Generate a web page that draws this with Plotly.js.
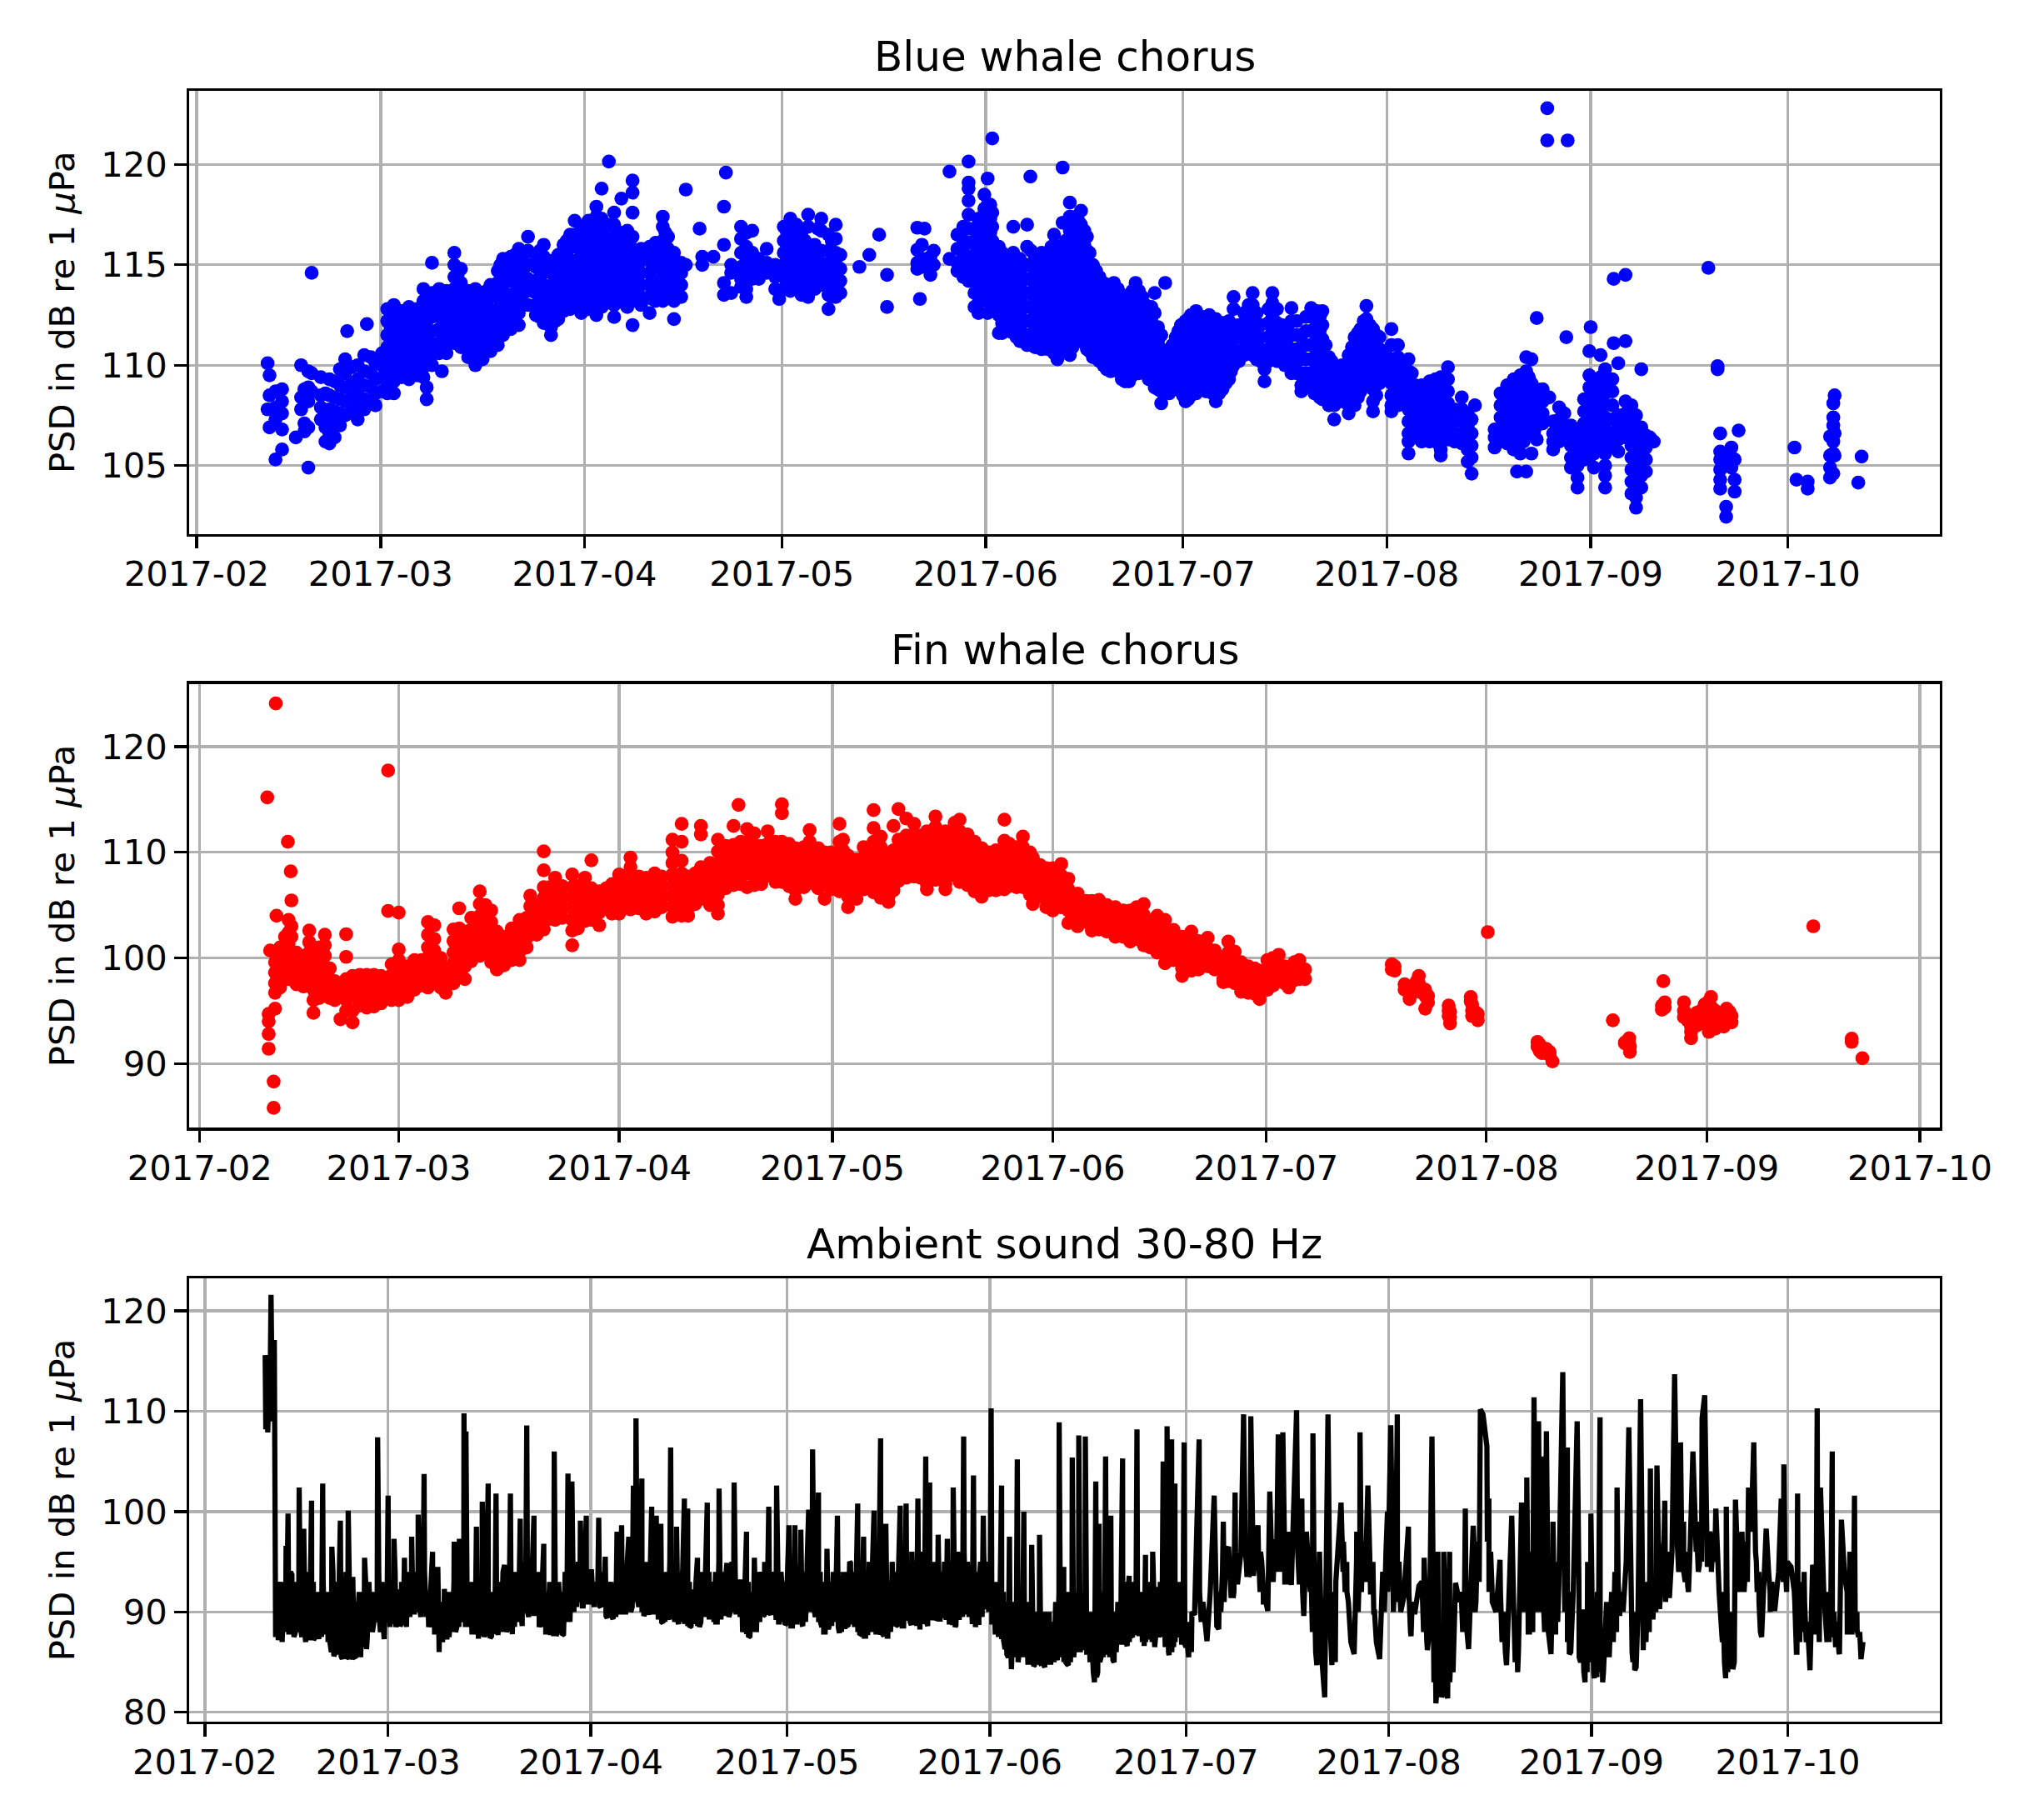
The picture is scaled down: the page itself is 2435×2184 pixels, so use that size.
<!DOCTYPE html>
<html>
<head>
<meta charset="utf-8">
<script src="https://cdn.plot.ly/plotly-3.0.1.min.js"></script>
<style>html,body{margin:0;padding:0;background:#fff}</style>
</head>
<body>
<div id="chart" style="width:2435px;height:2184px"></div>
<script>
// Scatter columns: [days since 2017-02-01, psd, psd, ...]
const blueFeb=[[10.8,110.1,107.8],[11.1,109.5,108.5,106.9],[12,108.7,107.9,107.3,105.3],[13,108.8,108.2,107.6,106.8,105.8],[15.1,106.4],[15.9,110,108.4,107.8],[16.4,108.8,107.1,106.7],[17,109.7,108.9,108.2,106.9,104.9],[17.5,114.6,109.6,108.7],[18.9,109.4,108.5,107.9,107.3],[19.6,108.6,107.6,106.9,106.2],[20.2,109.3,108.5,107.8,107.2,106.6,106.1],[21,109.2,108.4,107.7,107,106.4],[21.8,109.8,109,108.3,107.6,107],[22.6,110.3,109.6,108.9,108.2,107.5],[22.9,111.7],[23.6,109.9,109.1,108.4,107.7],[24.5,110,109.3,108.6,107.9,107.3],[25.5,110.5,109.7,109,108.3,107.8],[25.9,112.05],[26.5,110.4,109.6,108.9,108.1],[27.2,110.1,109.3,108.6,108]];
const blueMar=[[28.2,110.6,110,109.4,108.7],[29,112.8,112.2,111.5,110.9,110.2,109.6,109,108.6],[30,113,112.4,111.8,111.1,110.4,109.8,109.2,108.6],[31.2,112.7,112,111.4,110.7,110,109.4],[32.3,112.9,112.3,111.7,111,110.4,109.7,109.3],[33.5,112.8,112.2,111.5,110.8,110.1,109.5],[34.5,113.8,113.2,112.6,111.9,111.2,110.5,109.9,109.4],[35,108.9,108.3],[35.8,115.1,113.6,113,112.4,111.7,111.1,110.5,110],[36.9,113.8,113.1,112.5,111.8,111.1,110.6],[37.3,109.7],[38,113.7,113,112.3,111.7,111,110.6],[39.2,115.6,115,114.4,113.8,113.2,112.5,111.8,111.1],[40.2,114.8,114.1,113.4,112.8,112.1,111.5,110.9],[41.3,113.7,113,112.3,111.6,111,110.4],[42.4,113.8,113.1,112.5,111.8,111.1,110.4,110],[43.5,113.6,113,112.3,111.6,110.9,110.3],[44.7,114,113.4,112.7,112,111.4,110.7],[45.8,114.7,114.1,113.4,112.8,112.1,111.5,111],[46.6,115.3,114.6,114,113.3,112.6,112,111.5],[47.8,115.4,114.8,114.2,113.5,112.9,112.3,111.8],[49,115.8,115.2,114.5,113.9,113.3,112.6,112],[50.4,116.4,115.7,115,114.3,113.7,113],[51.6,115.5,114.9,114.2,113.6,113,112.5],[52.8,116,115.4,114.7,114,113.4,112.7,112.1],[53.9,115.2,114.6,113.9,113.2,112.5,111.9,111.5],[55,115.5,114.8,114.1,113.4,112.8,112.3],[55.8,116,115.3,114.7,114,113.4,112.7],[56.8,116.5,115.9,115.2,114.6,113.9,113.3,112.8],[57.5,117.2,116.5,115.9,115.2,114.6,114,113.4,113],[58.5,116.9,116.3,115.6,115,114.3,113.7,113,112.6]];
const blueApr=[[59.6,117.2,116.5,115.9,115.2,114.6,114,113.4,112.8],[60.8,117.9,117.4,116.7,116,115.4,114.8,114.1,113.5,112.5],[61.6,118.8,117.3,116.6,115.9,115.3,114.7,114,113.4,112.9],[62.7,120.15,117,116.3,115.7,115,114.4,113.8,113.2],[63.5,117.6,117,116.3,115.7,115,114.3,113.6,113,112.4],[64.6,118.3,116.4,115.8,115.1,114.5,113.9,113.3],[65.5,116.7,116.1,115.4,114.7,114,113.4,112.9],[66.3,119.2,118.6,117.6,116.4,115.8,115.1,114.5,113.9,113.3,112],[67.6,115.8,115.2,114.6,114,113.4,113],[68.9,115.9,115.3,114.6,114,113.4,112.6],[69.8,116.1,115.5,114.9,114.2,113.6,113.2],[70.9,117.4,116.9,116.2,115.6,115,114.4,113.8,113.2],[71.7,116.4,115.8,115.2,114.6,114,113.4],[72.6,115.6,115,114.4,113.8,113.2,112.3],[73.7,115.1,114.6,114,113.4],[74.4,118.75,115],[76.5,116.8],[76.9,115.4,115],[78.6,115.4],[80.2,117.9,116,114.1,113.5],[80.5,119.6],[81.3,115,114.6,113.6],[82.8,116.9,116.3,115.6,114.9,114.3,113.9],[83.6,116.6,115.9,115.2,114.5,113.8,113.4],[84.5,116.7,115.6,114.9,114.3],[85.5,115.3,114.7,114.3],[86.7,115.8,115.1,114.6],[88,115,114.4,113.8],[88.6,114.6,113.3]];
const blueMay=[[89.3,116.9,116.2,115.6,115,114.4,113.8],[90.3,117.3,116.7,116,115.4,114.8,114.2,113.7],[91.2,117,116.3,115.7,115,114.4,113.8],[92,116.6,115.9,115.3,114.6,114,113.5],[93,117.5,116.9,115.8,115.1,114.5,113.9,113.4],[94,116,115.4,114.8,114.2,113.8],[95,117.3,116.7,115.7,115.1,114.6,114],[96.1,116.5,115.7,115,114.4,113.5,112.8],[97.2,117,116.3,115.6,115,114.4,113.9,113.4],[97.9,115.5,114.8,114.2,113.6],[100.8,114.9],[102.3,115.5],[103.8,116.5],[105,114.5,112.9],[109.6,116.85,115.75,115.1,114.8],[110,113.3],[110.3,116,115.3,114.9],[110.7,116.8],[111.6,115.4,114.5],[112.1,115.7,115],[114.5,119.65,115.3],[115.7,116.5,115.8,115.1,114.7],[116.6,116.9,116.2,115.6,115,114.4],[117.4,120.15,119.1,118.8,118.2,117.5,116.8,116.1,115.4,114.8,114.2],[118.3,116.8,116.2,115.5,114.9,114.3,113.6,112.9],[118.9,117.3,116.6,115.9,115.2,114.5,113.8,113.1,112.6],[119.8,118.5,117.8,117.1,116.4,115.7,115,114.3,113.6]];
const blueJun=[[120.3,119.3,118,117.4,116.7,116,115.4,114.7,114,113.3,112.6],[121,121.3,117.6,116.9,116.2,115.5,114.8,114.1,113.4,112.7],[122,115.9,115.3,114.6,113.9,113.2,112.5,111.6],[123,115.4,114.7,114,113.3,112.6,111.9],[124.2,116.9,115.6,114.9,114.2,113.5,112.8,112.2,111.6],[125.2,115.3,114.6,113.9,113.2,112.5,111.8,111.2],[126.3,117,115.9,115,114.3,113.6,112.9,112.2,111.5,111],[126.8,119.4],[127.5,115.4,114.7,114,113.3,112.6,111.9,111.2,110.9],[128.5,115.6,114.9,114.2,113.5,112.8,112.1,111.4,110.8],[129.5,115.6,114.9,114.2,113.5,112.8,112.1,111.4,110.8],[130.4,116.5,115.5,114.8,114.1,113.4,112.7,112,111.3,110.6],[130.9,110.3],[131.7,119.85,117.1,115.6,114.9,114.2,113.5,112.8,112.1,111.4,110.7],[132.8,118.1,117.4,116.7,116,115.3,114.6,113.9,113.2,112.5,111.8,111.1,110.5],[133.7,117.4,116.8,116.1,115.4,114.7,114,113.3,112.6,111.9,111.4],[134.5,117.7,117,116.3,115.6,114.9,114.2,113.5,112.8,112.1,111.4],[135.4,116.4,115.7,115,114.3,113.6,112.9,112.2,111.5,110.8],[136.3,115,114.3,113.6,112.9,112.2,111.5,110.8,110.4],[137.3,114.4,113.7,113,112.3,111.6,110.9,110.2],[138.4,114,113.3,112.6,111.9,111.2,110.5,109.8],[139.5,114.1,113.4,112.7,112,111.3,110.6,110],[140.7,113.5,112.8,112.1,111.4,110.7,110,109.3],[141.8,113.3,112.6,111.9,111.2,110.5,109.8,109.2],[142.8,114.1,113.4,112.7,112,111.3,110.6,110],[143.8,113.4,112.7,112,111.3,110.6,109.9],[144.8,112.7,112,111.3,110.6,109.9,109.3],[145.7,113.6,112.6,111.9,111.2,110.5,109.8,109.1,108.9],[146.7,111.5,110.8,110.1,109.4,108.7,108.1],[147.3,114.1,110.6,109.9,109.2],[147.9,110.4,109.7,109,108.6],[148.9,111.4,110.8,110.1,109.4,108.9],[149.7,112,111.4,110.7,110,109.3,108.7]];
const blueJul=[[150.4,112.2,111.5,110.8,110.1,109.4,108.7,108.2],[151.2,112.5,111.8,111.1,110.4,109.7,109,108.5],[152,112.7,112,111.3,110.6,109.9,109.2,108.6],[153,112.4,111.7,111,110.3,109.6,108.9],[154,112.5,111.8,111.1,110.4,109.7,109],[155,112.3,111.6,110.9,110.2,109.5,108.8,108.2],[156,112.1,111.4,110.7,110,109.3,108.8],[157,112.2,111.5,110.8,110.1,109.3],[157.7,113.4,112.8,111.9,111.3,110.6,110],[159.3,112.6,112,111.4,110.8,110.5],[160.6,113.6,113,112.3,111.7,111.1,110.5],[161.8,112,111.4,110.8,110.2],[162.4,110.4,109.8,109.2],[163.6,113.6,113.1,112.4,111.7,111.1,110.5],[164.3,112.8,112.1,111.4,110.7,110.2],[165.5,111.1,110.5,110],[166.5,112.85,112.2,111.5,110.8,110.2,109.6],[167.3,112.2,111.5,110.8,110.2,109.6],[168,111.5,110.9,110.3,109.6,109,108.7],[169.5,112.85,112.4,111.7,111,110.3,109.6,109],[170.4,112.7,112,111.3,110.6,109.9,109.2,108.6],[171.2,112.7,112,111.3,110.6,109.9,109.2,108.5,108.3],[172.2,110.4,109.8,109.2,108.6,108],[173,109.9,109.2,108.6,108,107.3],[174.2,110,109.4,108.8,108.2],[175.2,110.5,109.9,109.2,108.6,108,107.6],[176.1,111.4,110.8,110.2,109.6,109,108.4,108],[177,111.8,111.1,110.5,109.9,109.3,108.7],[177.9,112.95,112.3,111.7,111,110.4,109.8,109.2],[178.9,111.8,111.2,110.6,110,109.4,108.8,108.2,107.7],[179.9,111.4,110.8,110.2,109.6,109.1],[180.8,110.7,110.1,109.5]];
const blueAug=[[181.7,111.8,111,110.3,109.7,109.1,108.5,108,107.7],[182.7,111,110.4,109.8,109.2,108.6,108],[183.3,110,109.4,108.8,108.2],[184.3,110.3,109.7,109,108.4,107.8,107.2,106.6,106.2,105.6],[185.3,109,108.4,107.8,107.2,106.6],[186.3,109,108.4,107.8,107.2,106.6,106.2],[187.5,109.2,108.6,108,107.4,106.8,106.2],[188.4,109.3,108.7,108.1,107.5,106.9,106.3],[189.2,109.4,108.8,108.2,107.6,107,106.4,105.8,105.5],[190.3,109.9,109.3,108.7,108.1,107.5,106.9,106.3],[191.3,107.8,107.2,106.6,106.2],[192.4,108.4,107.8,107.2,106.6,106.1],[193.3,107.6,107,106.4,105.8,105.2],[193.9,107.3,106.6,106,105.4,104.6],[194.4,108],[197.4,106.8,106.4,105.9],[198.3,108.6,108,107.4,106.8,106.2],[199.3,109,108.4,107.8,107.2,106.6,106.1],[200.3,109.3,108.7,108.1,107.5,106.9,106.3,105.8],[200.8,104.7],[201.3,109.5,108.9,108.3,107.7,107.1,106.5,105.6],[202.2,110.4,109.7,109,108.4,107.8,107.2,106.6,104.7],[203,110.3,109.1,108.5,107.9,107.3,106.7,105.6],[203.8,112.35,108.8,108.2,107.6,107,106.3],[204.7,108.8,108.2,107.6,107.1],[205.7,108.4],[206.3,107.2,106.6,106.2,105.8],[207.2,107.9,107.3,106.7,106.2],[208,107.6,107,106.6],[208.3,111.4],[209,107,106.5,106,105.4,104.9],[210,106.7,106.2,105.6,105,104.4,103.9],[211,108.3,107.7,107.1,106.5,105.9,105.3]];
const blueSep=[[211.8,110.7,109.5,108.9,108.3,107.7,107.1,106.5,105.9,105.4],[212,111.9],[212.5,109.2,108.6,108,107.4,106.8,106.2,105.6,104.9],[213.5,110.5,109.4,108.8,108.2,107.6,107,106.4,105.8],[214.2,109.8,109.2,108.6,108,107.4,106.8,106.2,105.6,105,104.5,103.9],[215.3,109.3,108.7,108,107.3,106.6,106],[215.5,114.3,111.1],[216.2,110.1,107.5,106.9,106.3,105.7],[217.3,114.5,111.2,108.2,107.6,107,106.4],[218.2,108,107.3,106.6,106,105.4,104.8,104.2,103.6],[218.9,107.5,106.9,106.3,105.7,105.1,104.5,103.9,103.4,102.9],[219.7,109.8,106.9,106.3,105.7,105.1,104.5,103.9],[220.4,106.5,105.9,105.3,104.7],[221,106.4],[221.6,106.2],[229.9,114.85],[231.3,109.95,109.8],[231.7,106.6,105.7,105.3,104.8,104.3,103.85],[232.6,105.5,105,102.95,102.45],[233.4,105.9,105.4,104.9],[233.9,105.3,104.3,103.7],[234.5,106.75]];
const blueOct=[[243,105.9],[243.3,104.3],[245,104.2,103.85],[248.4,106.45,105.5,104.9,104.4],[248.9,108.1,107.4,107,106.2,105.6,104.6],[249.1,108.5,106.6,105.5],[252.7,104.15],[253.2,105.45]];
const blueOutliers=[[205.4,122.8,121.2],[208.5,121.2]];
const blueCoreSpring=[[29.5,112.5,111.9,111.2,110.6,109.9,109.3],[30.6,112.7,112.1,111.5,110.8,110.1,109.5],[31.8,112.3,111.7,111,110.3,109.7],[32.9,112.5,111.9,111.2,110.5,109.8],[35.2,113,112.3,111.7,111,110.4],[37.5,113.4,112.8,112.1,111.4,110.9],[38.7,113.3,112.6,112,111.4],[39.7,114.5,113.8,113.1,112.4,111.8,111.2],[41.9,113.4,112.8,112.1,111.4,110.7],[43,113.3,112.7,112,111.3,110.6],[44.1,113.7,113,112.3,111.7,111],[46.2,115,114.3,113.7,113,112.4,111.7],[48.4,115.5,114.8,114.2,113.6,113,112.3],[49.7,115.5,114.8,114.2,113.6,113],[52.2,115.7,115,114.4,113.7,113.1,112.4],[54.5,115,114.3,113.6,112.9,112.2],[56.3,116.2,115.6,114.9,114.3,113.6,113],[58,116.5,115.9,115.2,114.6,114,113.3],[60.2,117,116.3,115.6,114.9,114.3,113.7,113.1],[62.2,116.9,116.3,115.6,115,114.3,113.7,113.1],[63.9,116.7,116,115.4,114.7,114,113.3],[65,116.4,115.8,115.1,114.4,113.7,113.1],[66.9,115.5,114.9,114.3,113.7,113.2],[69.3,115.6,115,114.3,113.7,113.3],[71.3,116.6,116,115.4,114.8,114.2,113.6],[72.2,115.3,114.7,114.1,113.5],[89.8,116.6,116,115.3,114.7,114.1],[91.6,116.7,116,115.3,114.7,114.1],[92.5,116.2,115.6,115,114.3,113.8],[94.5,116.8,115.7,115.1,114.5,114],[96.6,116.2,115.5,114.8,114.1,113.4]];
const blueCoreSummer=[[120.7,118,117.3,116.6,115.9,115.2,114.5,113.8,113.1],[122.5,115.6,114.9,114.2,113.5,112.8,112.1,111.6],[123.6,115,114.3,113.6,112.9,112.2,111.7],[124.7,115.3,114.6,113.9,113.2,112.5,111.9,111.4],[125.7,115,114.3,113.6,112.9,112.2,111.5],[126.9,115.7,115,114.3,113.6,112.9,112.2,111.5,111.1],[128,115,114.3,113.6,112.9,112.2,111.5,110.9],[129,115.3,114.6,113.9,113.2,112.5,111.8,111.1],[130,115.9,115.2,114.5,113.8,113.1,112.4,111.7,111],[131.2,115.9,115.2,114.5,113.8,113.1,112.4,111.7,111,110.6],[132.2,116.2,115.5,114.8,114.1,113.4,112.7,112,111.3,110.7],[133.2,117,116.4,115.7,115,114.3,113.6,112.9,112.2,111.5,110.9],[134.1,117.2,116.5,115.8,115.1,114.4,113.7,113,112.3,111.6],[135,116.7,116,115.3,114.6,113.9,113.2,112.5,111.8,111.1],[135.8,115.6,114.9,114.2,113.5,112.8,112.1,111.4,110.7],[136.8,114.7,114,113.3,112.6,111.9,111.2,110.5],[137.9,114.1,113.4,112.7,112,111.3,110.6,110],[139,113.7,113,112.3,111.6,110.9,110.2,109.7],[140.1,113.8,113.1,112.4,111.7,111,110.3,109.7],[141.2,113.1,112.4,111.7,111,110.3,109.6,109.2],[142.3,113.7,113,112.3,111.6,110.9,110.2,109.5],[143.3,113.7,113,112.3,111.6,110.9,110.2,109.6],[144.3,113,112.3,111.6,110.9,110.2,109.6],[145.2,112.9,112.2,111.5,110.8,110.1,109.4],[146.2,111.9,111.2,110.5,109.8,109.1,108.8],[147.6,110.1,109.4,108.9],[148.4,111,110.4,109.8,109.1],[149.3,111.7,111.1,110.4,109.7,109.1],[150,111.9,111.2,110.5,109.8,109.1,108.5],[150.8,112.3,111.6,110.9,110.2,109.5,108.8,108.3],[151.6,112.5,111.8,111.1,110.4,109.7,109],[152.5,112.3,111.6,110.9,110.2,109.5,108.8],[153.5,112.1,111.4,110.7,110,109.3,108.7],[154.5,112,111.3,110.6,109.9,109.2,108.6],[155.5,112,111.3,110.6,109.9,109.2,108.6],[156.5,111.8,111.1,110.4,109.7,109.1],[157.3,111.8,111.1,110.4,109.7],[158.5,112,111.4,110.7,110.2],[160,113,112.4,111.8,111.2,110.8],[161.2,112.6,112,111.4,110.8,110.3],[163,112.8,112.1,111.4,110.8,110.2],[165,112,111.4,110.8,110.2],[166,112,111.4,110.7,110.1],[168.7,112.4,111.7,111,110.3,109.6,109.1],[170,112.5,111.8,111.1,110.4,109.7,109,108.6],[170.8,112.4,111.7,111,110.3,109.6,108.9,108.4],[171.7,111,110.3,109.6,108.9,108.3],[172.6,110.2,109.5,108.9,108.3],[175.7,110.9,110.2,109.5,108.9,108.3],[176.6,111.6,110.9,110.3,109.6,109,108.4],[177.5,112.2,111.5,110.9,110.3,109.6,109],[178.4,112,111.4,110.8,110.2,109.6,109],[179.4,111.5,110.9,110.3,109.7,109.1,108.5],[184.8,109.6,109,108.4,107.8,107.2,106.6],[185.8,108.7,108.1,107.5,106.9,106.4],[186.9,108.9,108.3,107.7,107.1,106.5],[188,109,108.4,107.8,107.2,106.6],[188.8,109.1,108.5,107.9,107.3,106.7,106.1],[189.8,109.1,108.5,107.9,107.3,106.7],[199.8,108.7,108.1,107.5,106.9,106.3],[200.8,109,108.4,107.8,107.2,106.6],[201.8,109.2,108.6,108,107.4,106.8,106.2],[202.6,109.4,108.7,108.1,107.5,106.9],[203.4,108.5,107.9,107.3,106.7]];

const redFeb=[[9.5,115.2],[9.7,94.7,94,92.8,91.4],[9.9,100.7],[10.4,88.3,85.8],[10.6,99.6,98.6,97.6,96.7,95.2],[10.7,124.1],[10.8,104],[11.3,101,100,99,98,97.2],[12,102,101,100,99,98],[12.4,111],[12.5,103.6,102.4,101.3,100.2,99.1,98],[12.8,108.2],[12.9,105.45,103,102],[13.6,100.5,99.5,98.5,97.5],[14.6,100.2,99.2,98.2,97.3],[15.4,102.6,101.5,100.5,99.5,98.5,97.6],[16,99.5,98,97,96,94.8],[16.8,101,100,99,98,97,96.2],[17.6,102.2,101.2,100.2,99.2,98.2,97.2],[18.3,99,98,97,96.2],[19,97.8,96.9,96],[19.8,97.3,96.3,94.2],[20.6,102.25,100.1,98,97,96,95],[21.5,98.3,97.3,96.3,95,93.9],[22.5,98.4,97.4,96.4,95.5],[23.5,98.4,97.3,96.3,95.3],[24.5,98.4,97.4,96.4,95.4],[25.5,98.3,97.3,96.3,95.7],[26.5,117.75,104.45,98,97.2],[27,99.4,98.4,97.4,96.4,96]];
const redMar=[[28,104.3,100.8,99.8,98.8,97.8,96.8,96],[29.2,99.2,98.2,97.2,96.3],[30.2,99.8,98.8,97.8,97],[31.2,99.8,98.8,97.8,97.4],[32.1,103.4,102.2,101,100,99,98,97.2],[33,103.1,101.8,100.7,99.6,98.6,97.6],[33.9,100,99,98,97.2],[34.6,99,98,96.7],[35.7,102.7,101.6,100.5,99.5,98.5,97.6],[36.5,104.7,102.8,101.8,100.8,99.8,98.8],[37.3,102.5,101.4,100.3,99.2,98],[38.2,103.8,102.7,101.7,100.7,99.7],[39.4,106.3,105.1,104,103,102,101,100.2],[40.2,105,104,103,102,101],[41,104.5,103.4,102.4,101.4,100.4,99.6],[41.8,102.5,101.4,100.3,99.2,98.9],[42.8,102,101,100,99.3],[43.9,102.8,101.8,100.8,99.8],[45,103.6,102.6,101.6,100.6,99.8],[46,103.8,102.8,101.9,101],[46.5,105.9,104.9],[47.4,105,104,103,102.2],[48.4,110.1,108.3,106.7,105.7,104.7,103.7,102.7],[49.2,106.7,105.7,104.7,103.7],[50,107.6,106.6,105.6,104.6,103.6],[51,106.8,105.8,104.8,103.8],[52.4,107.9,106.7,105.7,104.7,103.6,102.6,101.2],[53.2,106.8,105.8,104.8,103.8,102.8],[54.2,107.6,106.5,105.5,104.5,103.5],[55.1,109.25,106.6,105.6,104.6,103.6],[56.2,106.3,105.3,104.3,103.1],[57.2,106.6,105.6,104.7],[58,107,106,105,104.2]];
const redApr=[[59,107.9,106.9,105.9,104.9,104.2],[60,107.8,106.8,105.8,104.8],[60.6,109.5,108.6,107,106,105,104.6],[61.8,107.7,106.7,105.7,104.7],[62.8,107.6,106.6,105.6,104.6,104.2],[64,108,107,106,105,104.4],[65,107.7,106.7,105.7,104.8],[66.5,111.2,110,109,107.9,106.9,105.9,104.9,103.9],[67.8,112.7,111,109.2,108,107,106,105,104],[68.7,107.7,106.7,105.7,104.7,104],[69.7,108,107,106,105.1],[70.5,112.5,111.7,108.6,107.6,106.6,105.6],[71.8,109,108,107,106,105],[72.9,111.2,110.1,109,108,107,106,105,104.2],[74,110.6,109.6,108.6,107.6,106.6],[75.1,112.5,110.7,109.7,108.7,107.7,106.9],[75.8,114.5],[76.1,111,110,109,108,107],[77,112.2,111,110,109,108,106.7],[78,111.8,110.7,109.7,108.7,107.7,106.9],[79,110.6,109.6,108.6,107.6,107],[79.9,112,110.8,109.8,108.8,107.8],[81,111,110,109,108,107.2],[81.9,114.55,113.7,111,110,109,108,107.2],[82.9,110.8,109.8,108.8,107.8,106.8],[83.8,110.4,109.4,108.4,107.4,106.4,105.6],[85,110.5,109.5,108.5,107.5,106.7],[85.8,112.1,111,110,109,108,107.1],[87,110.4,109.4,108.4,107.4,106.6],[87.9,110,109,108,107,105.6],[88.8,110,109,108,107,106.5]];
const redMay=[[90,112.7,111,110,109,108,107,106.3],[90.5,111.2,110.2],[91.2,109.7,108.7,107.7,106.7,105.8,104.8],[92.4,109.3,108.3,107.3,106.3,105.6],[93.4,110.5,109.5,108.5,107.5,106.5],[94.8,114,112.3,111,110,109,108,107,106.2],[95.8,111.5,110.5,109.5,108.5,107.5,106.5,105.7],[96.9,109.8,108.8,107.8,106.8,105.8,105.3],[97.6,112.5,110.2,109.2,108.2,107.2,106.4],[98.3,114.1,111.2,110.2,109.2,108.2,107.3],[99.4,113.2,111.6,110.6,109.6,108.6,107.6],[100.5,112.7,111.7,110.7,109.7,108.7,107.7],[101.4,111.6,110.6,109.6,108.6,107.6],[102.3,112,111,110,109,108,107,106.5],[103.5,113.4,112.4,111.4,110.4,109.4,108.4,107.4],[104.9,112,111,110,109,108,107,106.5],[106.2,112.8,111.8,110.8,109.8,108.8,107.8],[106.9,113.1,112,111,110,109,108,107.2],[108,111.7,110.7,109.7,108.7,107.7,106.9],[109,111,110,109,108,107,106.3],[110,110.4,109.4,108.4,107.4,106.4,105.8],[111,110,109,108,107,106.4],[112,110.2,109.2,108.2,107.2,106.4],[113.2,113.1,111.1,110.1,109.1,108.1,107.1,106.5],[113.9,110.8,109.8,108.8,107.8,106.8],[114.9,110.5,109.5,108.5,107.5,106.7],[115.8,111.5,110.5,109.5,108.5,107.5,106.7],[116.8,110,109,108,107,106],[117.2,109.5,108.5,107.5,106.5,105.1],[118.2,108.8,107.8,106.8,105.8],[119.1,108.5,107.5,106.5,105.5,104.8]];
const redJun=[[120,108.5,107.5,106.5,105.5,104.5],[121.2,108.9,107.8,106.8,105.8,104.8],[122.2,107.5,106.5,105.5,104.5,103.3],[123.5,106.1,105.1,104.1,103],[124.7,105.4,104.4,103.4],[125.5,105.4,104.4,103.4,102.6],[126.5,105.5,104.5,103.5,102.7],[127.6,105,104,103,102.5],[128.8,104.8,103.8,102.8,102],[129.9,104.5,103.5,102.5,102],[130.9,104.5,103.5,102.5,101.55],[131.8,104.8,103.8,102.8,101.8],[132.8,105.1,104.1,103,102,101.2],[133.7,103.5,102.5,101.5,101],[134.7,104,103,102,101,100.5],[135.8,103.6,102.6,101.6,100.6,99.5],[137,102.65,101.7,100.7,99.8],[138.2,102,101,100,99,98.3],[139.5,102.5,101.5,100.5,99.5,98.8],[140.5,101.6,100.6,99.6,98.9],[141.8,101.9,100.9,100,99.2],[142.8,100.7,99.8,98.9],[144,100,99,98,97.7],[144.7,101.55,100.5,99.5,98.6,97.8],[145.6,100.6,99.6,98.6,97.6],[146.5,99.6,98.6,97.6,96.8],[147.5,99.2,98.2,97.2,96.7],[148.4,99,98,97,96.6],[149.1,98.8,97.8,96.8,96.1]];
const redJul=[[150.2,99.8,98.8,97.8,97],[151,100,99,98.1,97.4],[151.8,100.3,99.3,98.4],[152.6,99.2,98.3,97.6],[153.2,99,98,97.2],[154,99.6,98.6,97.9],[154.7,99.8,98.8,98],[155.5,98.9,98],[167.7,99.4,98.9],[168.1,99.2,98.8],[169.5,97.5,97],[170.2,97.2,96.6,96.1],[171.2,97.8,97.2],[171.5,98.3,97.6,96.8],[172.4,97,96.4,95.2],[172.8,96.4,95.8],[175.7,95.5,95,94.5],[175.9,94.9,94.4,93.8],[178.8,96.3,95.9],[179,95.6,95,94.5],[179.4,94.9,94.5],[179.8,94.7,94.1]];
const redAug=[[181.2,102.45],[188.2,92.05,91.6],[188.5,91.8,91.2],[188.8,91.4,91],[189.4,91.4,91],[189.9,91.1,90.8],[190.3,90.2],[198.8,94.1],[200.5,92,91.9],[201.1,92.4,91.8],[201.2,91.6,91.1],[205.7,95.1,95.5],[205.9,97.8],[206.1,95.8,95.3],[208.8,95.8,95,94.4],[209.3,94.6,94.1],[209.8,93.7,93.5,93,92.4],[210.6,94.8,94.2,93.6],[211.2,95,94.4,93.8]];
const redSep=[[211.7,95.6,94.9,94.5,93.9],[212.3,95.9,95.2,94.6,93.9,93],[212.6,96.3,95.4,94.5,93.6],[213.2,95,94.4,93.8,93.3],[213.9,94.6,94.1,93.6],[214.4,94.7,94,93.5],[214.8,95.2,94.6,94],[215.2,94.9,94.3],[215.5,94.5,93.9],[227,103],[232.4,92.35,92.05],[233.9,90.5]];

// Line samples: day, psd, day, psd, ...
const ambientFeb=[9.2,115.6,9.3,108.2,9.5,114,9.6,107.9,9.8,113,9.9,109,10.1,121.6,10.3,110,10.6,117.1,10.8,87.5,11,92.5,11.2,87.2,11.5,92.3,11.8,87,12.1,92,12.4,96.6,12.7,99.8,13,88,13.3,93.7,13.6,87.5,14,91,14.4,102.4,14.7,88,15.1,98.3,15.4,87,15.7,92,16,87.2,16.3,101.1,16.6,87.2,17,90.5,17.4,87.3,18,102.8,18.3,88,18.7,92,19.1,87,19.4,96.5,19.7,85.6,20,91,20.3,86,20.7,99.1,21,85.3,21.3,92,21.6,85.4,21.9,100.1,22.2,85.3,22.6,93.5,23,85.4,23.4,90,23.8,85.5,24.4,95.4,24.7,86.3,25.2,90.5,25.6,88,26,90,26.4,107.4,26.7,89,27.1,91,27.4,87.3,28,101.6];
const ambientMar=[28.3,88.5,28.9,97.3,29.2,88.5,29.7,92,30,88.8,30.5,95.4,30.8,88.5,31.2,93,31.6,97.5,32,90,32.6,99.7,33,89.5,33.5,103.75,33.8,90.5,34.2,88.5,34.8,96,35.1,88,35.4,91,35.6,94.5,35.8,86,36.2,88,36.6,92.3,37,87.5,37.5,89,38.1,97,38.5,88.5,38.9,97.3,39.2,90,39.6,109.8,39.9,108,40.2,90,40.6,92,41,88,41.5,98.5,41.8,87.6,42.4,101,42.7,87.5,43.3,102.8,43.6,87.4,44,90,44.5,101.8,44.8,87.7,45.3,90,45.8,94.7,46.1,88,46.7,101.8,47,87.8,47.6,92,48.2,99.3,48.5,88.6,49.2,108.6,49.5,89.5,50.3,99.6,50.7,90,51.1,88.5,51.8,96.8,52.1,88,52.7,93,53.4,106,53.7,87.6,54.2,91,54.6,87.7,55.5,103.8,55.8,89,56.1,103,56.4,90,56.9,92,57.4,99.1,57.7,90.6,58.3,99.6,58.6,91];
const ambientApr=[59.1,94,59.5,90.5,60.2,99.4,60.5,90.5,61.2,95.5,61.5,89.4,62,92.5,62.4,89.3,63,98,63.3,90,63.7,98.65,64.1,90,64.8,97.5,65.1,90,65.5,102.6,65.7,92,65.9,109.3,66.2,91,66.8,103.3,67.1,89.6,67.6,93,68.3,100.5,68.6,90,69,99.6,69.3,89.5,69.7,98.8,70,88.9,70.6,93,71.2,106.4,71.5,89.5,72.1,98.5,72.4,88.8,73.3,101.3,73.6,89,73.8,100.3,74.1,88.5,74.7,92,75.3,95.4,75.6,88.5,76.2,93,76.8,100.9,77.1,89.5,77.8,92.5,78.1,89,78.6,102.3,78.9,89.5,79.4,92,79.8,94.9,80.1,89.5,80.9,102.9,81.2,90,81.8,93,82.2,88,82.8,98,83.1,87.5,84,95.4,84.3,88,84.9,92,85.5,89.7,86.2,100.5,86.5,89.7,87.4,102.6,87.7,89,88.3,92,88.7,88.7];
const ambientMay=[89.3,98.65,89.6,88.6,90.2,98.65,90.5,89,91.1,98.2,91.4,88.6,92,92,92.3,100.2,92.9,106.2,93.2,90,93.8,101.9,94.1,89,94.6,88,95.1,96.3,95.4,88.5,96,92.5,96.7,99.6,97,87.9,97.5,92,98.1,88.6,98.7,94.9,99,89,99.8,100.8,100.1,87.7,100.7,97.5,101,87.6,101.6,92,102.3,100.1,102.6,88,103.3,107.3,103.6,87.8,104.1,98.8,104.4,87.6,105,92,105.6,88.6,106.3,100.6,106.6,88.6,107.2,100.8,107.5,89.5,108,88.7,109,101.3,109.3,88.5,110.2,105.5,110.5,88.6,110.8,102.9,111.1,90,111.6,89.2,112.1,97.7,112.4,89.3,113,93,113.5,97.3,113.8,89,114.4,102.4,114.7,88.5,115.3,93,116,107.5,116.3,90,116.9,93,117.5,103.6,117.8,88.5,118.4,93,119,99.6,119.3,90.5,119.8,93];
const ambientJun=[120.2,110.3,120.5,89,121,88,121.8,102.6,122.1,87.2,122.6,85.8,123,97.5,123.3,84.3,123.8,88,124.2,105.2,124.5,86,125.2,100,125.5,90.5,126,85,126.4,96.7,126.7,84.6,127.2,85,127.6,97.7,127.9,84.7,128.4,84.5,128.8,90,129.2,85,129.8,88,130.2,85.5,130.6,108.9,131,92,131.3,94.5,131.6,85,132,84.7,132.6,105.4,132.9,86,133.6,107.6,133.9,86.5,134.6,107.5,134.9,86,135.4,90,136,83,136.2,103,136.5,84,136.7,98.8,137,85.5,137.7,105.5,138,86,138.5,99.6,139,85,139.5,89,140,87,140.3,105.3,140.6,87,141,86.6,141.3,93.6,141.6,87.6,142.1,92,142.5,108.2,142.8,88,143.3,90,143.6,86.6,143.8,95.7,144.2,87.5,144.9,96,145.2,86.5,145.6,92.5,146,88,146.5,105,146.8,87,147.1,108.5,147.4,85.7,147.8,107.2,148.1,86.5,148.3,102.8,148.6,88,149,92,149.4,87,149.7,106.9,150,86.5];
const ambientJul=[150.4,85.5,150.9,90,151.3,89.7,152,107.2,152.4,90,153.2,87.1,153.7,92,154.3,101.6,154.7,88.6,155,88.3,155.7,99,156.1,96,156.5,96.5,156.9,91.4,157.2,91.4,157.5,101.9,157.9,93,158.4,96,158.8,109.7,159.2,95,159.6,93.5,159.9,109.5,160.3,93.6,161,98.65,161.4,96,161.8,92.5,162.2,91,162.5,90.1,162.8,102,163.2,95,163.7,97,164.1,107.7,164.4,94,164.8,107.9,165.1,93,165.6,98,166.1,92.7,166.9,110.1,167.3,93,167.7,101.3,168,89.6,168.4,98,169,92,169.4,107.8,170,84.7,170.4,96,170.8,85,171.2,81.5,171.7,109.7,172,90,172.3,84.7,172.9,93,173.7,100.9,174,94,174.6,92,175.2,87,175.7,85.8,176.1,98,176.6,107.9,177,97,177.4,93,177.8,102.6,178.2,92,178.7,90,179.1,87,179.6,85.3,180.2,92,180.8,100];
const ambientAug=[181.3,108.6,181.7,90,182.3,109.7,182.7,92,183.3,91.5,184,98.5,184.4,87.6,185,90,185.6,92.6,186.4,95.4,186.9,86.2,187.2,88,187.6,107.5,187.9,83,188.2,80.9,188.5,96,188.8,82,189.1,81.5,189.4,96,189.7,82,190,81.4,190.3,96,190.7,85,191.2,92.9,191.8,91,192.3,88,192.7,100.3,193.2,86.3,193.9,98.6,194.2,90,195,110.2,195.4,109.7,196,106.5,196.3,101.3,196.8,92,197.4,90,198,95.2,198.5,88,199,84.7,199.8,99.6,200.2,88,200.7,84,201.3,100.9,201.6,90,202.1,103.4,202.5,88,203,88,203.2,111.4,203.5,90,203.9,109,204.1,90,204.3,105.5,204.7,90,205.1,108,205.4,88,205.8,85.8,206.1,99,206.5,88,207,92.7,207.6,113.9,207.9,90,208.3,106.4,208.6,85.8,209.2,92,209.8,109,210.1,85.5,210.6,90,211,83,211.4,95,211.9,99.8];
const ambientSep=[212.4,83.4,212.9,92,213.3,109.4,213.7,83,214.3,91,214.7,85.5,215.3,90,215.9,102.4,216.3,89.6,216.8,91,217.3,95,217.7,108.4,218.2,86,218.6,84.2,219.1,90,219.5,111.2,219.9,86.2,220.5,92,221,104.3,221.4,89.5,222,104.6,222.4,90.3,222.8,95,223.2,101.1,223.9,91.4,224.3,96,224.7,113.7,225.1,97,225.6,106.9,226.1,94,226.7,92.6,227.1,97,227.5,106,228,96,228.5,94.7,228.9,109.3,229.3,111.6,229.7,94.5,230.3,97,231,100.3,231.5,92,232,87,232.5,83.4,232.6,100.5,233.1,88,233.6,84.3,234,101.2,234.5,92,235,98,235.5,94,236,102.4,236.4,98,236.8,106.9,237.2,95,237.6,91,238,87.5,238.7,98.3,239.3,92,240,90.1,240.6,94,241,101.3,241.4,104.7];
const ambientOct=[241.9,95,242.5,94.5,243,92,243.4,86,243.5,101.8,244,92,244.5,94,245,89,245.4,84.2,245.8,94.7,246.2,88,246.5,110.3,247,102.4,247.5,92,248,87,248.4,90,248.8,106,249.2,88,249.9,85.8,250.2,99.2,250.7,93.5,251.1,88,251.5,96,251.8,88,252.2,101.6,252.6,88.2,253,88,253.2,85.3,253.5,87];
// Dense band under the spikes: [day, psd at four samples within that day]
const bandFeb=[[11,92,88,93,87.5],[12,91,88,93,88],[13,94,88.5,92,88],[14,93,88,91,87.5],[15,92.5,87.5,94,88],[16,91,87.5,93,87.5],[17,92,88,92,87.5],[18,93,88,91,87],[19,92,86,94,85.8],[20,93,86,95,85.6],[21,92,85.6,94,85.5],[22,93,85.5,92,85.5],[23,91,85.6,92,86],[24,92,86.5,93,87.5],[25,93,88,92,89],[26,92,89,94,88],[27,93,88,92,89]];
const bandMar=[[28,92,89,93,88.8],[29,94,89,92,88.6],[30,93,89,92,89],[31,94,89.5,93,90],[32,94,90,93,90.5],[33,93,90,94,89.5],[34,92,89,93,88.5],[35,91,88,92,87],[36,91,87,90,87.5],[37,92,87.5,92,88],[38,93,88,94,88.5],[39,94,89,95,88.5],[40,92,88.5,93,88],[41,93,88,92,87.6],[42,92,87.6,94,88],[43,93,87.6,92,87.6],[44,92,87.8,93,88],[45,93,88,94,88.2],[46,92,88.5,94,89],[47,93,88.5,94,89],[48,94,90,95,90],[49,95,90,94,89.8],[50,95,89.6,94,89.8],[51,94,89,93,88.5],[52,92,88,91,87.7],[53,93,87.6,91,88],[54,93,88,92,87.8],[55,94,89,93,89.5],[56,94,91,93,90.5],[57,95,91,94,90.6],[58,94,91,93,91]];
const bandApr=[[59,94,91.5,93,91],[60,93,90.6,94,90.5],[61,93,89.6,92,89.5],[62,93,89.4,92,89.5],[63,94,90,93,90],[64,94,90,95,90],[65,96,90.5,95,91],[66,94,90.5,95,90],[67,94,90,95,89.7],[68,94,90,95,90],[69,94,89.5,93,89],[70,93,89,94,89.2],[71,95,89.5,94,89],[72,93,89,94,89],[73,95,88.8,94,88.6],[74,93,88.6,92,88.8],[75,93,88.6,94,89],[76,94,89.5,95,89.6],[77,94,89.5,93,89],[78,94,89,95,89.5],[79,94,89.6,93,89.6],[80,94,90,95,90],[81,94,90,93,89.5],[82,92,88.5,93,87.8],[83,93,87.6,92,88],[84,93,88.2,94,89],[85,94,89.6,95,89.7],[86,95,90,94,89.7],[87,94,89.2,95,89],[88,94,89,93,88.8]];
const bandMay=[[89,94,88.7,93,88.6],[90,94,89,93,89],[91,95,88.7,94,89],[92,95,90,94,90],[93,95,89.5,94,89],[94,94,88.5,93,88],[95,94,88.3,93,88.6],[96,94,89,95,88.5],[97,93,88,94,88.3],[98,94,88.7,95,89],[99,94,88.5,93,88],[100,93,87.8,94,87.6],[101,94,87.7,95,88],[102,95,88,94,88],[103,95,87.7,94,87.6],[104,94,87.6,93,88],[105,95,88.6,94,88.7],[106,95,88.7,94,88.6],[107,95,89.2,94,89],[108,96,88.7,95,88.6],[109,95,88.5,96,88.8],[110,95,89,96,89.5],[111,94,89.2,95,89.4],[112,95,89.3,94,89.4],[113,95,89.2,94,89],[114,95,88.7,94,88.7],[115,96,89.2,95,89.5],[116,96,90,95,89.5],[117,94,88.8,95,88.6],[118,94,88.7,95,89.5],[119,96,90.5,95,90]];
const bandJun=[[120,95,89,93,88],[121,93,87.5,92,87.3],[122,92,86.3,91,85.5],[123,90,84.5,91,85.5],[124,90,85,92,85.5],[125,92,85.5,91,85],[126,90,84.8,89,84.7],[127,90,85,89,84.8],[128,90,84.6,89,85],[129,90,85,89,85],[130,91,85.2,92,85.5],[131,90,85,89,84.8],[132,92,85,91,85.5],[133,92,86,91,86],[134,91,86.2,92,86],[135,90,85,88,84],[136,89,83.5,90,85],[137,92,85.5,90,86],[138,91,85.5,90,85.2],[139,90,86,91,87],[140,92,87,93,87],[141,91,87,92,87.5],[142,93,87.7,92,87.6],[143,92,87,91,87],[144,92,87.5,93,87],[145,92,87.3,91,87.5],[146,93,87.5,92,86.5],[147,92,86,91,86],[148,91,87,92,87.5],[149,93,87,92,86.8]];
const bandJul=[[150,88,86,89,86],[152,92,89,91,89.5],[155,92,90,94,91],[157,95,92,96,93],[159,96,93.5,97,94],[161,96,92,95,91],[163,96,93,97,94],[165,96,93,97,94],[167,96,93,98,92],[169,95,88,94,86],[172,88,86,92,85],[174,97,92,95,91],[176,95,90,96,92],[178,96,92,95,90],[180,94,90,96,92]];
const bandAug=[[182,96,91,95,90],[184,92,88,91,90],[186,93,88,92,87],[188,90,82,88,81.5],[189,88,82,90,82],[190,88,83,87,84],[192,92,90,91,89],[194,96,91,97,93],[196,97,92,96,91],[198,92,87,90,86],[200,91,85,89,86],[202,95,88,96,89],[204,96,90,94,88],[206,93,88,95,89],[208,94,87,92,86],[210,93,85,90,84],[211,89,84,91,85]];
const bandSep=[[212,92,84,90,83.5],[213,90,84,88,84],[215,92,87,94,88],[216,93,90,92,90],[218,92,85,90,84.5],[220,92,87,93,88],[221,93,89.5,92,90],[223,97,91,96,92],[225,98,94,97,95],[226,99,93,96,92],[228,98,94,99,95],[230,98,94,97,95],[232,92,85,90,84],[233,90,84.5,88,85],[235,96,92,97,93],[237,96,92,94,88],[239,94,90,93,91]];
const bandOct=[[241,96,93,95,92],[243,91,86,90,87],[244,93,88,91,87],[246,94,88,92,87],[248,92,87,90,87.5],[249,90,86.5,89,86],[251,92,88,91,88],[252,92,88,90,87.5]];

const monthTicks=['2017-02-01','2017-03-01','2017-04-01','2017-05-01','2017-06-01','2017-07-01','2017-08-01','2017-09-01','2017-10-01'];
const monthLabels=['2017-02','2017-03','2017-04','2017-05','2017-06','2017-07','2017-08','2017-09','2017-10'];
const titles=['Blue whale chorus','Fin whale chorus','Ambient sound 30-80 Hz'];
const psdLabel='PSD in dB re 1 <i>μ</i>Pa';

const day0=Date.UTC(2017,1,1);
const toDate=d=>new Date(day0+d*864e5).toISOString();
function fromColumns(groups){
  const x=[],y=[];
  groups.forEach(g=>g.forEach(c=>{for(let i=1;i<c.length;i++){x.push(toDate(c[0]));y.push(c[i]);}}));
  return {x,y};
}
function mergedLine(pairGroups,bandGroups){
  const pts=[];
  pairGroups.forEach(g=>{for(let i=0;i<g.length;i+=2)pts.push([g[i],g[i+1]]);});
  bandGroups.forEach(g=>g.forEach(c=>{for(let i=1;i<c.length;i++)pts.push([c[0]+(i-1)*0.25+0.07,c[i]]);}));
  pts.sort((a,b)=>a[0]-b[0]);
  return {x:pts.map(p=>toDate(p[0])),y:pts.map(p=>p[1])};
}
const blue=fromColumns([blueCoreSpring,blueCoreSummer,blueFeb,blueMar,blueApr,blueMay,blueJun,blueJul,blueAug,blueSep,blueOct,blueOutliers]);
const red=fromColumns([redFeb,redMar,redApr,redMay,redJun,redJul,redAug,redSep]);
const ambient=mergedLine([ambientFeb,ambientMar,ambientApr,ambientMay,ambientJun,ambientJul,ambientAug,ambientSep,ambientOct],[bandFeb,bandMar,bandApr,bandMay,bandJun,bandJul,bandAug,bandSep,bandOct]);

const W=2435,H=2184,L=226.6,R=2328.4,T=108.6,B=2066.4;
const ph=B-T;
const dom=(top,bot)=>[(B-bot)/ph,(B-top)/ph];
const font={family:'"DejaVu Sans",sans-serif',size:41.67,color:'#000'};
const xax=(range,anchor)=>({type:'date',range,anchor,tickmode:'array',tickvals:monthTicks,ticktext:monthLabels,
  ticks:'outside',ticklen:14.6,tickwidth:3.3,tickcolor:'#000',showgrid:true,gridcolor:'#b0b0b0',gridwidth:3.3,
  showline:true,linecolor:'#000',linewidth:3.3,mirror:true,zeroline:false,tickfont:font,tickangle:0,ticklabelstandoff:-5});
const yax=(range,domain,anchor,tickvals)=>({range,domain,anchor,tickmode:'array',tickvals,ticks:'outside',ticklen:14.6,tickwidth:3.3,tickcolor:'#000',
  showgrid:true,gridcolor:'#b0b0b0',gridwidth:3.3,showline:true,linecolor:'#000',linewidth:3.3,mirror:true,zeroline:false,tickfont:font,
  title:{text:psdLabel,font,standoff:19},automargin:true});
const d1=dom(108.6,640.4),d2=dom(820.6,1353.4),d3=dom(1534.2,2066.4);
const titleAnn=(text,top)=>({text,xref:'paper',x:0.5,yref:'paper',y:top,yanchor:'bottom',yshift:10,showarrow:false,font:{family:font.family,size:50,color:'#000'}});

Plotly.newPlot('chart',[
 {type:'scatter',mode:'markers',x:blue.x,y:blue.y,xaxis:'x',yaxis:'y',marker:{color:'#0000ff',size:16.7,line:{width:0}},showlegend:false},
 {type:'scatter',mode:'markers',x:red.x,y:red.y,xaxis:'x2',yaxis:'y2',marker:{color:'#ff0000',size:16.7,line:{width:0}},showlegend:false},
 {type:'scatter',mode:'lines',x:ambient.x,y:ambient.y,xaxis:'x3',yaxis:'y3',line:{color:'#000',width:6.25,simplify:false},showlegend:false}
],{
 width:W,height:H,paper_bgcolor:'#fff',plot_bgcolor:'#fff',showlegend:false,font,
 margin:{l:L,r:W-R,t:T,b:H-B,pad:0},
 xaxis:xax([toDate(-1.127),toDate(265.1)],'y'),
 xaxis2:xax([toDate(-1.488),toDate(244.8)],'y2'),
 xaxis3:xax([toDate(-2.42),toDate(265.25)],'y3'),
 yaxis:yax([101.6,123.67],d1,'x',[105,110,115,120]),
 yaxis2:yax([83.92,125.95],d2,'x2',[90,100,110,120]),
 yaxis3:yax([79.07,123.25],d3,'x3',[80,90,100,110,120]),
 annotations:[titleAnn(titles[0],d1[1]),titleAnn(titles[1],d2[1]),titleAnn(titles[2],d3[1])]
},{displayModeBar:false,staticPlot:true});
</script>
</body>
</html>
